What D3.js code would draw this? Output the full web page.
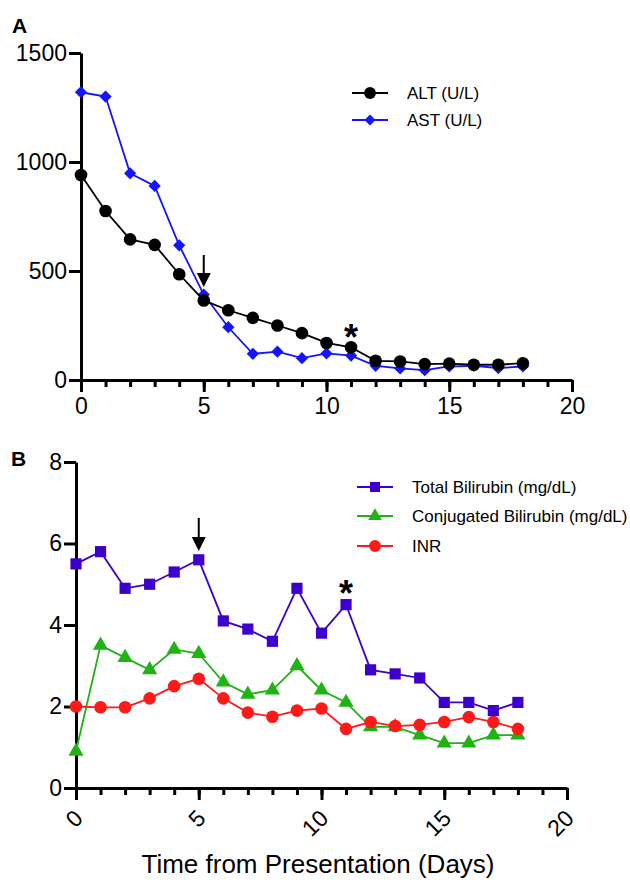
<!DOCTYPE html>
<html>
<head>
<meta charset="utf-8">
<script src="https://cdn.jsdelivr.net/npm/d3@7"></script>
<style>
  html, body { margin: 0; padding: 0; background: #fff; }
  svg { display: block; font-family: "Liberation Sans", Arial, Helvetica, sans-serif; }
</style>
</head>
<body>
<svg id="chart" width="630" height="882"></svg>
<script>
// ---- Data ----
const days = [0,1,2,3,4,5,6,7,8,9,10,11,12,13,14,15,16,17,18];
const alt  = [940, 775, 645, 620, 485, 365, 320, 285, 250, 215, 170, 150, 88, 85, 73, 75, 70, 70, 77];
const ast  = [1320, 1300, 948, 890, 618, 392, 242, 120, 130, 100, 122, 112, 65, 53, 45, 62, 65, 55, 62];
const tbili = [5.5, 5.8, 4.9, 5.0, 5.3, 5.6, 4.1, 3.9, 3.6, 4.9, 3.8, 4.5, 2.9, 2.8, 2.7, 2.1, 2.1, 1.9, 2.1];
const cbili = [0.9, 3.5, 3.2, 2.9, 3.4, 3.3, 2.6, 2.3, 2.4, 3.0, 2.4, 2.1, 1.5, 1.5, 1.3, 1.1, 1.1, 1.3, 1.3];
const inr   = [2.0, 1.98, 1.98, 2.2, 2.5, 2.68, 2.2, 1.85, 1.75, 1.9, 1.95, 1.45, 1.62, 1.52, 1.55, 1.62, 1.74, 1.62, 1.45];
const xTicksMajor = [0, 5, 10, 15, 20];
const xTicksMinor = d3.range(0, 21);
const yTicksA = [0, 500, 1000, 1500];
const yTicksB = [0, 2, 4, 6, 8];
const labelsA = ["ALT (U/L)", "AST (U/L)"];
const labelsB = ["Total Bilirubin (mg/dL)", "Conjugated Bilirubin (mg/dL)", "INR"];
const arrowDay = 5, starDay = 11;
const xTitle = "Time from Presentation (Days)";

const svg = d3.select("#chart");

// diamond = square rotated 45°
const diamondSym = {
  draw(ctx, size) {
    const r = Math.sqrt(size / 2);
    ctx.moveTo(0, -r); ctx.lineTo(r, 0); ctx.lineTo(0, r); ctx.lineTo(-r, 0); ctx.closePath();
  }
};

function drawAxes(g, x, y, yTicks, rotateX) {
  g.append("g").attr("transform", `translate(0,${y(0)})`)
    .call(d3.axisBottom(x).tickValues(xTicksMinor).tickSize(7).tickSizeOuter(0).tickFormat(""))
    .call(a => a.selectAll("line").attr("stroke", "#000").attr("stroke-width", 3))
    .call(a => a.select(".domain").attr("stroke", "#000").attr("stroke-width", 3));
  const ax = g.append("g").attr("transform", `translate(0,${y(0)})`)
    .call(d3.axisBottom(x).tickValues(xTicksMajor).tickSize(12).tickSizeOuter(0).tickPadding(6).tickFormat(d3.format("d")))
    .call(a => a.select(".domain").remove())
    .call(a => a.selectAll("line").attr("stroke", "#000").attr("stroke-width", 3));
  ax.selectAll("text").attr("font-size", 23).attr("fill", "#000")
    .attr("font-family", "Liberation Sans, Arial, sans-serif");
  if (rotateX) {
    ax.selectAll("text")
      .attr("x", 0).attr("y", 0)
      .attr("text-anchor", "end")
      .attr("dy", "0.35em")
      .attr("transform", "translate(2,26) rotate(-45)");
  }
  const ay = g.append("g").attr("transform", `translate(${x(0)},0)`)
    .call(d3.axisLeft(y).tickValues(yTicks).tickSize(12).tickSizeOuter(0).tickPadding(2).tickFormat(d3.format("d")))
    .call(a => a.selectAll("line").attr("stroke", "#000").attr("stroke-width", 3))
    .call(a => a.select(".domain").attr("stroke", "#000").attr("stroke-width", 3));
  ay.selectAll("text").attr("font-size", 23).attr("fill", "#000")
    .attr("font-family", "Liberation Sans, Arial, sans-serif");
}

function drawSeries(g, x, y, vals, color, symType, symSize) {
  const line = d3.line().x((d, i) => x(days[i])).y(d => y(d));
  g.append("path").datum(vals).attr("d", line)
    .attr("fill", "none").attr("stroke", color).attr("stroke-width", 1.8);
  const sym = d3.symbol().type(symType).size(symSize);
  g.selectAll(null).data(vals).enter().append("path")
    .attr("d", sym)
    .attr("transform", (d, i) => `translate(${x(days[i])},${y(d)})`)
    .attr("fill", color);
}

function drawArrow(g, cx, yTop, yTip) {
  g.append("line").attr("x1", cx).attr("x2", cx).attr("y1", yTop).attr("y2", yTip - 10)
    .attr("stroke", "#000").attr("stroke-width", 2);
  g.append("path")
    .attr("d", `M${cx - 7},${yTip - 14} L${cx + 7},${yTip - 14} L${cx},${yTip} Z`)
    .attr("fill", "#000");
}

function drawLegend(g, x0, x1, tx, ys, labels, colors, syms, sizes) {
  labels.forEach((lab, i) => {
    g.append("line").attr("x1", x0).attr("x2", x1).attr("y1", ys[i]).attr("y2", ys[i])
      .attr("stroke", colors[i]).attr("stroke-width", 1.8);
    g.append("path").attr("d", d3.symbol().type(syms[i]).size(sizes[i]))
      .attr("transform", `translate(${(x0 + x1) / 2},${ys[i]})`).attr("fill", colors[i]);
    g.append("text").attr("x", tx).attr("y", ys[i]).attr("dy", "0.35em")
      .attr("font-size", 17).attr("fill", "#000").text(lab);
  });
}

// ---- Panel A ----
const gA = svg.append("g");
const xA = d3.scaleLinear().domain([0, 20]).range([81, 572]);
const yA = d3.scaleLinear().domain([0, 1500]).range([380, 53]);
drawAxes(gA, xA, yA, yTicksA, false);
drawSeries(gA, xA, yA, ast, "#1414ff", diamondSym, 75);
drawSeries(gA, xA, yA, alt, "#000000", d3.symbolCircle, 125);
drawArrow(gA, xA(arrowDay), 255, 287);
gA.append("text").attr("x", xA(starDay)).attr("y", 350).attr("text-anchor", "middle")
  .attr("font-size", 36).attr("font-weight", "bold").text("*");
drawLegend(gA, 352, 388, 407, [93, 120], labelsA, ["#000000", "#1414ff"],
  [d3.symbolCircle, diamondSym], [110, 60]);
gA.append("text").attr("x", 12).attr("y", 33).attr("font-size", 21).attr("font-weight", "bold").text("A");

// ---- Panel B ----
const gB = svg.append("g");
const xB = d3.scaleLinear().domain([0, 20]).range([76, 567]);
const yB = d3.scaleLinear().domain([0, 8]).range([788, 462]);
drawAxes(gB, xB, yB, yTicksB, true);
drawSeries(gB, xB, yB, cbili, "#1fb314", d3.symbolTriangle, 100);
drawSeries(gB, xB, yB, inr, "#ff1a1a", d3.symbolCircle, 125);
drawSeries(gB, xB, yB, tbili, "#3d00cc", d3.symbolSquare, 125);
drawArrow(gB, xB(arrowDay), 518, 551);
gB.append("text").attr("x", xB(starDay)).attr("y", 606).attr("text-anchor", "middle")
  .attr("font-size", 36).attr("font-weight", "bold").text("*");
drawLegend(gB, 357, 393, 412, [487, 516, 546], labelsB, ["#3d00cc", "#1fb314", "#ff1a1a"],
  [d3.symbolSquare, d3.symbolTriangle, d3.symbolCircle], [100, 80, 110]);
gB.append("text").attr("x", 11).attr("y", 466).attr("font-size", 21).attr("font-weight", "bold").text("B");

svg.append("text").attr("x", 318).attr("y", 873).attr("text-anchor", "middle")
  .attr("font-size", 26).attr("fill", "#000").text(xTitle);
</script>
</body>
</html>
